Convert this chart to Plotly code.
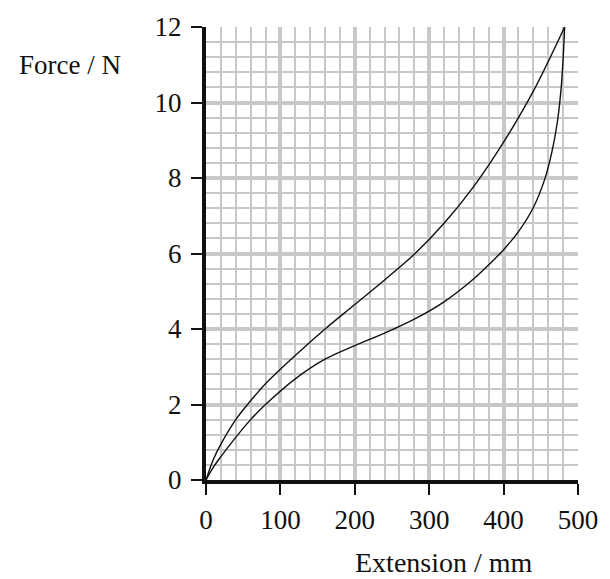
import plotly.graph_objects as go

# Loading (upper) curve
upper_x = [0, 10, 20, 40, 60, 80, 120, 160, 200, 240, 280, 320, 360, 400, 440, 482]
upper_y = [0, 0.55, 0.95, 1.6, 2.1, 2.55, 3.3, 4.0, 4.65, 5.3, 5.98, 6.8, 7.78, 8.95, 10.3, 12]

# Unloading (lower) curve
lower_x = [0, 10, 20, 40, 60, 80, 120, 160, 200, 240, 280, 320, 360, 380, 400, 420, 440, 455, 465, 472, 477, 480, 482]
lower_y = [0, 0.34, 0.62, 1.13, 1.6, 2.0, 2.68, 3.2, 3.56, 3.89, 4.26, 4.72, 5.33, 5.7, 6.1, 6.58, 7.22, 7.95, 8.7, 9.45, 10.3, 11.15, 12]

x_ticks = [0, 100, 200, 300, 400, 500]
y_ticks = [0, 2, 4, 6, 8, 10, 12]

FONT = "Liberation Serif"
GRID = "#c8c8c8"
INK = "#111111"

fig = go.Figure()
fig.add_trace(go.Scatter(x=upper_x, y=upper_y, mode="lines",
                         line=dict(color=INK, width=1.4, shape="spline", smoothing=1.0),
                         showlegend=False, hoverinfo="skip"))
fig.add_trace(go.Scatter(x=lower_x, y=lower_y, mode="lines",
                         line=dict(color=INK, width=1.4, shape="spline", smoothing=1.0),
                         showlegend=False, hoverinfo="skip"))

axis_common = dict(
    showline=True, linecolor=INK, linewidth=4,
    ticks="outside", ticklen=11, tickwidth=1.5, tickcolor=INK,
    showgrid=True, gridcolor=GRID, gridwidth=3.5,
    zeroline=False,
    tickfont=dict(family=FONT, size=27, color=INK),
)

fig.update_layout(
    width=610, height=579,
    margin=dict(l=206, r=27, t=26, b=99),
    paper_bgcolor="white", plot_bgcolor="white",
    xaxis=dict(range=[0, 500], tickvals=x_ticks, ticktext=[str(v) for v in x_ticks],
               minor=dict(dtick=20, tick0=0, showgrid=True, gridcolor=GRID, gridwidth=2, ticks=""),
               ticklabelstandoff=2, **axis_common),
    yaxis=dict(range=[0, 12], tickvals=y_ticks, ticktext=[str(v) for v in y_ticks],
               minor=dict(dtick=0.4, tick0=0, showgrid=True, gridcolor=GRID, gridwidth=2, ticks=""),
               ticklabelstandoff=4, **axis_common),
    annotations=[
        dict(text="Force / N", xref="paper", yref="paper", x=-0.365, y=0.916,
             xanchor="center", yanchor="middle", showarrow=False,
             font=dict(family=FONT, size=27, color=INK)),
        dict(text="Extension / mm", xref="paper", yref="paper", x=0.639, y=-0.183,
             xanchor="center", yanchor="middle", showarrow=False,
             font=dict(family=FONT, size=28, color=INK)),
    ],
)

fig.write_html("out.html", config={"displayModeBar": False},
               post_script="document.body.style.margin='0';")
